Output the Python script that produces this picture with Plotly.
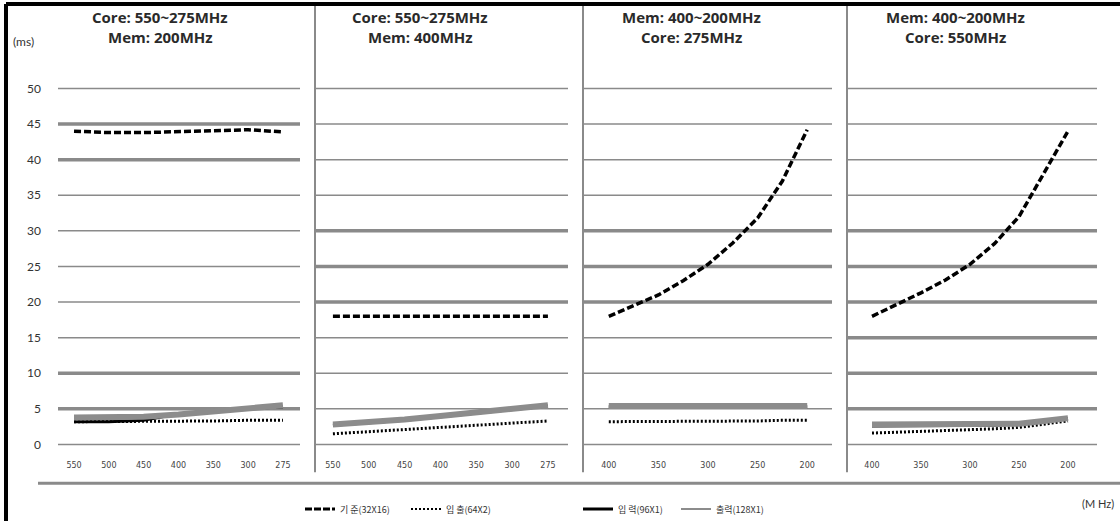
import plotly.graph_objects as go

# ---------------- data ----------------
core_cats = ["550", "500", "450", "400", "350", "300", "275"]
mem_mhz = [400, 375, 350, 325, 300, 275, 250, 225, 200]
mem_ticks = [400, 350, 300, 250, 200]
y_ticks = [0, 5, 10, 15, 20, 25, 30, 35, 40, 45, 50]

series_names = ["기 준(32X16)", "입 출(64X2)", "입 력(96X1)", "출력(128X1)"]

# Panel 1: Core 550~275MHz, Mem 200MHz
p1_base = [44.0, 43.8, 43.8, 43.9, 44.1, 44.2, 43.9]
p1_io = [3.2, 3.2, 3.3, 3.3, 3.3, 3.4, 3.4]
p1_in = [3.2, 3.2, 3.4, 4.3, 4.7, 5.0, 5.3]
p1_out = [3.8, 3.8, 3.9, 4.2, 4.6, 5.0, 5.5]

# Panel 2: Core 550~275MHz, Mem 400MHz
p2_base = [18.0, 18.0, 18.0, 18.0, 18.0, 18.0, 18.0]
p2_io = [1.5, 1.8, 2.1, 2.4, 2.7, 3.0, 3.3]
p2_in = [2.7, 3.0, 3.4, 3.9, 4.4, 4.9, 5.4]
p2_out = [2.8, 3.1, 3.5, 4.0, 4.5, 5.0, 5.5]

# Panel 3: Mem 400~200MHz, Core 275MHz
p3_base = [18.0, 19.5, 21.0, 23.0, 25.3, 28.3, 31.8, 37.0, 44.2]
p3_io = [3.2, 3.2, 3.2, 3.2, 3.2, 3.3, 3.3, 3.4, 3.4]
p3_in = [5.3, 5.3, 5.3, 5.3, 5.3, 5.3, 5.3, 5.3, 5.3]
p3_out = [5.4, 5.4, 5.4, 5.4, 5.4, 5.4, 5.4, 5.4, 5.4]

# Panel 4: Mem 400~200MHz, Core 550MHz
p4_base = [18.0, 19.6, 21.3, 23.1, 25.3, 28.2, 32.0, 38.0, 44.0]
p4_io = [1.6, 1.7, 1.8, 1.9, 2.0, 2.2, 2.4, 2.8, 3.3]
p4_in = [2.6, 2.6, 2.6, 2.6, 2.6, 2.7, 2.9, 3.2, 3.6]
p4_out = [2.8, 2.8, 2.8, 2.8, 2.8, 2.8, 2.9, 3.3, 3.7]

panel_titles = [
    ("Core: 550~275MHz", "Mem: 200MHz"),
    ("Core: 550~275MHz", "Mem: 400MHz"),
    ("Mem: 400~200MHz", "Core: 275MHz"),
    ("Mem: 400~200MHz", "Core: 550MHz"),
]

panels = [
    (core_cats, [p1_base, p1_io, p1_in, p1_out]),
    (core_cats, [p2_base, p2_io, p2_in, p2_out]),
    (mem_mhz, [p3_base, p3_io, p3_in, p3_out]),
    (mem_mhz, [p4_base, p4_io, p4_in, p4_out]),
]

# ---------------- styles / layout ----------------
W, H = 1120, 524
GRID = "#8a8a8a"
line_styles = [
    dict(color="black", width=3.5, dash="7px,3px"),
    dict(color="black", width=3, dash="2px,2px"),
    dict(color="black", width=3, dash="solid"),
    dict(color="#8c8c8c", width=6, dash="solid"),
]
legend_styles = [
    dict(color="black", width=3, dash="7px,2px"),
    dict(color="black", width=2, dash="2px,2px"),
    dict(color="black", width=3, dash="solid"),
    dict(color="#8c8c8c", width=2, dash="solid"),
]

def px(v):
    return v / W

def py(v):
    return 1 - v / H

x_domains = [(58, 300), (315, 568), (583, 832), (847, 1097)]
x_ranges = [[-0.46, 6.49], [-0.5, 6.56], [426, 175], [425.5, 170.4]]
title_x = [160, 420, 691, 955]
thick_sets = [{45, 40, 10, 5}, {30, 25, 20}, {30, 25, 20}, {30, 25, 20, 15, 10, 5}]
y_dom = [py(454.2), py(81.8)]

fig = go.Figure()

for k, (xs, ys_list) in enumerate(panels):
    xa = "x" if k == 0 else f"x{k+1}"
    ya = "y" if k == 0 else f"y{k+1}"
    for s, ys in enumerate(ys_list):
        fig.add_trace(go.Scatter(
            x=xs, y=ys, mode="lines", xaxis=xa, yaxis=ya,
            line=line_styles[s], showlegend=False, hoverinfo="skip",
        ))

# legend entries (one legend each so they can be placed like the original)
legend_x = [300, 406, 578, 676]
for s, name in enumerate(series_names):
    lg = "legend" if s == 0 else f"legend{s+1}"
    fig.add_trace(go.Scatter(
        x=[None], y=[None], mode="lines", name=name, line=legend_styles[s],
        showlegend=True, legend=lg,
    ))

layout = dict(
    width=W, height=H, margin=dict(l=0, r=0, t=0, b=0),
    paper_bgcolor="white", plot_bgcolor="rgba(0,0,0,0)",
    font=dict(family="Lato, Noto Sans", color="#333333"),
    shapes=[], annotations=[],
)

for k in range(4):
    xk = "xaxis" if k == 0 else f"xaxis{k+1}"
    yk = "yaxis" if k == 0 else f"yaxis{k+1}"
    ya = "y" if k == 0 else f"y{k+1}"
    xa = "x" if k == 0 else f"x{k+1}"
    xax = dict(
        domain=[px(x_domains[k][0]), px(x_domains[k][1])],
        range=x_ranges[k], anchor=ya, showgrid=False, zeroline=False,
        showline=False, ticks="", ticklabelstandoff=7,
        tickfont=dict(size=8, color="#444444", family="DejaVu Sans"),
    )
    if k < 2:
        xax.update(type="category")
    else:
        xax.update(type="linear", tickmode="array", tickvals=mem_ticks,
                   ticktext=[str(t) for t in mem_ticks])
    layout[xk] = xax
    layout[yk] = dict(
        domain=y_dom, range=[-1, 51], anchor=xa, showgrid=False,
        zeroline=False, showline=False, tickmode="array", tickvals=y_ticks,
        showticklabels=(k == 0), ticks="", ticklabelstandoff=16,
        tickfont=dict(size=12, color="#333333", family="Lato"),
    )
    # gridlines
    for v in y_ticks:
        layout["shapes"].append(dict(
            type="line", xref=f"{xa} domain", yref=ya, x0=0, x1=1, y0=v, y1=v,
            line=dict(color=GRID, width=3.5 if v in thick_sets[k] else 1.5),
            layer="below",
        ))
    # titles
    for j, txt in enumerate(panel_titles[k]):
        layout["annotations"].append(dict(
            text=f"<b>{txt}</b>", x=px(title_x[k]), y=py(17 + 20 * j),
            xref="paper", yref="paper", showarrow=False,
            xanchor="center", yanchor="middle",
            font=dict(size=15, color="#2a2a2a", family="Open Sans"),
        ))

# panel separators
for xs in [315, 583, 847]:
    layout["shapes"].append(dict(
        type="line", xref="paper", yref="paper", x0=px(xs), x1=px(xs),
        y0=py(475), y1=py(4), line=dict(color=GRID, width=2)))
# bottom axis line
layout["shapes"].append(dict(
    type="line", xref="paper", yref="paper", x0=px(38), x1=1,
    y0=py(486), y1=py(486), line=dict(color=GRID, width=3)))
# outer frame (left and top edges)
layout["shapes"].append(dict(
    type="line", xref="paper", yref="paper", x0=px(6), x1=px(6),
    y0=0, y1=py(4), line=dict(color="black", width=4)))
layout["shapes"].append(dict(
    type="line", xref="paper", yref="paper", x0=px(6), x1=1,
    y0=py(4), y1=py(4), line=dict(color="black", width=4)))

layout["annotations"].append(dict(
    text="(ms)", x=px(23), y=py(42), xref="paper", yref="paper",
    showarrow=False, xanchor="center", yanchor="middle",
    font=dict(size=12, color="#333333", family="Lato")))
layout["annotations"].append(dict(
    text="(M Hz)", x=px(1116), y=py(506), xref="paper", yref="paper",
    showarrow=False, xanchor="right", yanchor="middle",
    font=dict(size=11, color="#333333", family="Lato")))

for s in range(4):
    lg = "legend" if s == 0 else f"legend{s+1}"
    layout[lg] = dict(
        x=px(legend_x[s]), y=py(512), xanchor="left", yanchor="middle",
        orientation="h", bgcolor="rgba(0,0,0,0)", borderwidth=0,
        font=dict(size=9, color="#333333", family="Noto Sans CJK KR"),
        itemwidth=30, tracegroupgap=0,
    )

fig.update_layout(**layout)
fig.write_html(
    "out.html",
    config={"displayModeBar": False},
    post_script="document.body.style.margin='0';document.body.style.overflow='hidden';",
)
